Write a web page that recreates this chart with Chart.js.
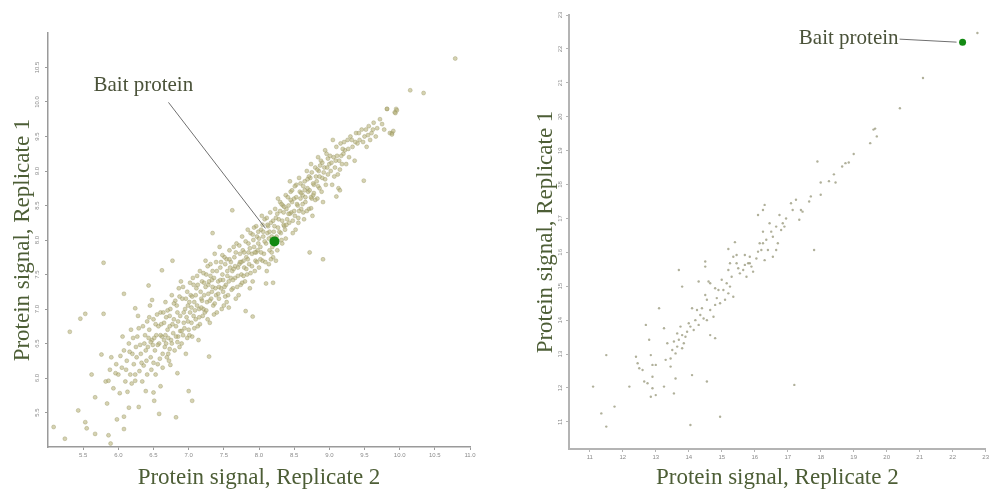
<!DOCTYPE html>
<html>
<head>
<meta charset="utf-8">
<script src="https://cdn.jsdelivr.net/npm/chart.js@4.4.1/dist/chart.umd.min.js"></script>
<style>
  html, body { margin: 0; padding: 0; background: #fff; }
  #wrap { position: relative; width: 991px; height: 489px; overflow: hidden; }
  #left { position: absolute; left: 0; top: 0; }
  #right { position: absolute; left: 520px; top: 0; }
</style>
</head>
<body>
<div id="wrap">
  <canvas id="left" width="480" height="489"></canvas>
  <canvas id="right" width="471" height="489"></canvas>
</div>
<script>
// left panel: [replicate 2, replicate 1]
var leftProteins = [
  [5.82,5.95],[5.88,6.12],[5.93,5.85],[5.97,6.2],[6.0,6.05],[5.9,6.3],[6.02,5.78],
  [6.05,6.15],[6.08,6.4],[6.1,5.95],[6.12,6.25],[6.15,6.5],[6.17,6.05],[6.2,6.35],[6.06,6.6],[6.18,6.7],[6.13,5.8],
  [6.22,6.2],[6.25,6.45],[6.27,6.6],[6.3,6.1],[6.32,6.35],[6.35,6.75],[6.37,6.5],[6.4,6.25],[6.28,6.9],[6.34,5.95],[6.38,6.62],[6.24,6.05],
  [6.42,6.45],[6.44,6.7],[6.46,6.3],[6.48,6.55],[6.5,6.85],[6.52,6.4],[6.54,6.62],[6.56,6.2],[6.58,6.5],[6.6,6.95],[6.45,7.05],[6.53,6.05],[6.57,6.75],[6.49,6.48],[6.43,6.58],
  [6.62,6.6],[6.63,6.35],[6.65,6.8],[6.67,7.1],[6.68,6.5],[6.7,6.7],[6.72,6.25],[6.73,6.9],[6.75,6.55],[6.76,7.2],[6.78,6.65],[6.8,6.4],[6.64,6.95],[6.69,6.3],[6.74,7.0],[6.79,6.85],[6.71,6.58],[6.66,6.45],
  [6.82,6.75],[6.83,7.05],[6.85,6.6],[6.86,7.3],[6.88,6.9],[6.9,6.5],[6.91,7.15],[6.93,6.8],[6.95,7.0],[6.96,6.35],[6.98,7.25],[7.0,6.7],[6.84,6.95],[6.87,6.45],[6.92,6.62],[6.97,6.88],[6.89,7.4],[6.99,7.05],
  [7.02,6.95],[7.03,7.2],[7.05,6.6],[7.06,7.45],[7.08,7.1],[7.1,6.85],[7.11,7.3],[7.13,6.75],[7.15,7.0],[7.16,7.55],[7.18,7.15],[7.2,6.9],[7.04,6.8],[7.07,7.35],[7.12,7.05],[7.14,6.55],[7.17,7.25],[7.19,7.4],[7.09,6.98],[7.01,7.1],
  [7.22,7.2],[7.23,6.95],[7.25,7.5],[7.26,7.1],[7.28,7.35],[7.3,6.8],[7.31,7.65],[7.33,7.25],[7.35,7.05],[7.36,7.45],[7.38,7.3],[7.4,6.95],[7.24,7.7],[7.27,6.85],[7.32,7.15],[7.34,7.55],[7.37,7.8],[7.39,7.2],[7.29,7.4],[7.21,7.0],
  [7.42,7.4],[7.43,7.15],[7.45,7.6],[7.46,7.3],[7.48,7.5],[7.5,7.05],[7.51,7.75],[7.53,7.35],[7.55,7.55],[7.56,7.2],[7.58,7.85],[7.6,7.45],[7.44,7.9],[7.47,7.0],[7.52,7.65],[7.54,7.1],[7.57,7.4],[7.59,7.6],[7.49,7.25],
  [7.62,7.55],[7.63,7.3],[7.65,7.75],[7.66,7.45],[7.68,7.95],[7.7,7.6],[7.71,7.2],[7.73,7.8],[7.75,7.5],[7.76,8.05],[7.78,7.7],[7.8,7.4],[7.64,7.9],[7.67,7.15],[7.72,7.65],[7.74,7.35],[7.77,7.85],[7.79,7.6],
  [7.82,7.75],[7.83,7.5],[7.85,7.95],[7.86,7.65],[7.88,8.1],[7.9,7.8],[7.91,7.4],[7.93,7.9],[7.95,7.7],[7.96,8.2],[7.98,7.85],[8.0,7.6],[7.84,8.15],[7.87,7.3],[7.92,8.0],[7.94,7.55],[7.97,8.05],[7.99,7.95],
  [8.02,7.9],[8.03,8.15],[8.05,7.7],[8.06,8.05],[8.08,8.3],[8.1,7.95],[8.11,7.55],[8.13,8.2],[8.15,7.85],[8.16,8.4],[8.18,8.05],[8.2,7.75],[8.04,8.35],[8.07,7.8],[8.12,8.1],[8.14,7.65],[8.17,8.25],[8.19,7.9],
  [8.22,8.2],[8.23,8.45],[8.25,8.05],[8.26,7.85],[8.28,8.3],[8.3,8.55],[8.31,8.1],[8.33,7.95],[8.35,8.4],[8.36,8.2],[8.38,8.65],[8.4,8.3],[8.24,7.7],[8.27,8.6],[8.32,8.0],[8.34,8.5],[8.37,8.15],[8.39,8.45],
  [8.42,8.5],[8.43,8.25],[8.45,8.7],[8.46,8.4],[8.48,8.1],[8.5,8.6],[8.51,8.35],[8.53,8.8],[8.55,8.5],[8.56,8.25],[8.58,8.7],[8.6,8.45],[8.44,8.85],[8.47,8.55],[8.52,8.15],[8.57,8.9],[8.59,8.6],
  [8.62,8.65],[8.63,8.4],[8.65,8.85],[8.66,8.55],[8.68,9.0],[8.7,8.7],[8.71,8.45],[8.73,8.9],[8.75,8.6],[8.76,8.35],[8.78,8.8],[8.8,9.05],[8.64,8.3],[8.69,8.75],[8.74,9.1],[8.77,8.65],
  [8.82,8.85],[8.83,8.6],[8.85,9.0],[8.86,8.75],[8.88,9.15],[8.9,8.9],[8.91,8.55],[8.93,9.05],[8.95,8.8],[8.96,9.25],[8.98,8.95],[9.0,9.1],[8.84,9.2],[8.89,8.7],[8.94,9.3],
  [9.02,9.0],[9.04,8.8],[9.06,9.2],[9.08,9.05],[9.1,9.35],[9.12,8.95],[9.14,9.15],[9.16,9.4],[9.18,9.1],[9.2,9.25],[9.05,9.45],[9.13,8.75],
  [9.22,9.3],[9.24,9.1],[9.26,9.45],[9.28,9.2],[9.3,9.5],[9.33,9.35],[9.36,9.15],[9.38,9.55],[9.4,9.4],
  [9.43,9.45],[9.46,9.6],[9.5,9.5],[9.53,9.35],[9.56,9.65],[9.6,9.55],[9.63,9.7],[9.66,9.5],[9.58,9.45],
  [9.72,9.75],[9.78,9.6],[9.82,9.9],[9.86,9.55],[9.89,9.55],[9.93,9.85],[9.95,9.9],
  [6.31,6.48],[6.36,6.18],[6.41,6.82],[6.47,6.12],[6.51,6.58],[6.55,6.92],[6.59,6.28],[6.61,6.78],[6.67,6.62],[6.7,6.98],
  [6.73,6.42],[6.77,6.78],[6.81,7.12],[6.84,6.52],[6.88,6.68],[6.92,7.32],[6.94,6.72],[6.98,6.58],[7.02,7.38],[7.05,7.18],
  [7.08,6.72],[7.12,7.48],[7.15,6.88],[7.18,7.02],[7.21,7.52],[7.24,7.32],[7.27,7.62],[7.3,7.12],[7.33,7.42],[7.36,6.92],
  [7.39,7.68],[7.42,7.22],[7.45,7.42],[7.48,7.78],[7.51,7.32],[7.54,7.72],[7.57,7.02],[7.6,7.68],[7.63,7.42],[7.66,7.62],
  [7.69,7.32],[7.72,7.92],[7.75,7.68],[7.78,7.48],[7.81,7.98],[7.84,7.72],[7.87,7.88],[7.9,7.62],[7.93,8.18],[7.96,7.82],
  [7.99,8.12],[8.02,7.72],[8.05,8.22],[8.08,7.98],[8.11,8.32],[8.14,8.02],[8.17,7.72],[8.2,8.28],[8.23,8.02],[8.26,8.38],
  [8.29,8.12],[8.32,8.52],[8.35,8.22],[8.38,8.02],[8.41,8.62],[8.44,8.38],[8.47,8.72],[8.5,8.42],[8.53,8.62],[8.56,8.32],
  [8.59,8.82],[8.62,8.52],[8.65,8.72],[8.68,8.42],[8.71,8.92],[8.74,8.62],[8.77,8.82],[8.8,8.58],[8.83,9.02],[8.86,8.92],
  [8.9,9.12],[8.94,8.88],[8.98,9.18],[9.03,9.12],[9.07,8.92],[9.11,9.22],[9.15,9.02],[9.19,9.32],
  [6.03,6.32],[6.11,6.12],[6.16,6.38],[6.19,5.92],[6.21,6.58],[6.26,6.3],[6.29,6.72],[6.33,6.22],[6.39,6.4],[6.41,6.05],
  [6.44,6.88],[6.46,6.52],[6.5,6.22],[6.53,6.78],[6.56,6.48],[6.6,6.62],[6.63,6.15],[6.65,6.55],[6.68,6.88],[6.71,6.35],
  [6.73,6.75],[6.76,6.5],[6.79,7.08],[6.82,6.6],[6.85,6.82],[6.87,7.18],[6.9,6.68],[6.93,6.95],[6.96,7.15],[6.99,6.82],
  [7.01,6.62],[7.04,7.02],[7.07,6.9],[7.1,7.2],[7.13,7.35],[7.16,6.78],[7.19,7.12],[7.22,7.38],[7.25,6.98],[7.28,7.22],
  [7.31,7.48],[7.34,7.32],[7.37,7.08],[7.4,7.55],[7.43,7.32],[7.46,7.68],[7.49,7.42],[7.52,7.18],[7.55,7.48],[7.58,7.72],
  [7.61,7.28],[7.64,7.58],[7.67,7.82],[7.7,7.48],[7.73,7.68],[7.76,7.38],[7.79,7.82],[7.82,7.58],[7.85,7.82],[7.88,7.52],
  [7.91,8.08],[7.94,7.82],[7.97,7.68],[8.0,8.02],[8.03,7.82],[8.06,8.12],[8.09,7.68],[8.12,8.22],[8.15,8.12],[8.18,7.82],
  [8.21,8.12],[8.24,8.32],[8.27,8.18],[8.3,8.42],[8.33,8.28],[8.36,8.48],[8.39,8.22],[8.42,8.38],[8.45,8.58],[8.48,8.28],
  [8.51,8.78],[8.54,8.52],[8.57,8.42],[8.6,8.68],[8.63,8.78],[8.66,8.62],[8.69,8.88],[8.72,8.72],[8.75,8.98],[8.78,8.68],
  [8.81,8.92],[8.84,8.78],[8.87,9.08],[8.92,8.98],[8.97,9.05],[9.01,9.22],[9.09,9.15],[9.17,9.22],[9.21,9.42],[9.27,9.32],
  [9.32,9.45],[9.37,9.42],[9.42,9.55],[9.48,9.42],[9.52,9.6],[9.55,9.52],[9.62,9.6],[9.68,9.62],[9.75,9.68],
  // scattered ones
  [10.79,10.63],[10.15,10.17],[10.34,10.13],[9.96,9.88],[9.94,9.84],[9.82,9.9],[9.89,9.53],[9.91,9.58],[9.49,8.86],
  [8.91,7.72],[8.72,7.82],[5.79,7.67],[7.62,8.43],[7.34,8.1],[5.31,6.67],[5.46,6.86],[5.53,6.93],[5.79,6.93],
  [6.08,7.22],[6.24,7.01],[5.08,5.29],[5.24,5.12],[5.43,5.53],[5.53,5.36],[5.55,5.27],[5.67,5.19],[5.86,5.17],
  [5.89,5.05],[5.98,5.4],[6.08,5.26],[5.67,5.72],[5.84,5.63],[5.62,6.05],[5.76,6.34],[5.96,6.07],[6.15,5.57],
  [6.51,5.67],[6.58,5.48],[6.82,5.43],[7.29,6.31],[7.91,6.89],[7.81,6.97],[8.2,7.38],[8.1,7.37],[6.5,5.79],
  [6.6,5.88],[7.05,5.67],[7.0,5.81],[6.84,6.07],[6.74,6.19],[8.74,8.46],[9.1,8.63],[9.15,8.72],[5.86,5.96],
  [6.24,5.96],[6.39,5.81],[6.08,5.44],[6.29,5.58],[6.77,7.7],[6.62,7.56],[6.43,7.34],[6.48,7.13]
];
var leftBait = [8.22, 7.98];
var leftXTicks = [5.5, 6, 6.5, 7, 7.5, 8, 8.5, 9, 9.5, 10, 10.5, 11];
var leftYTicks = [5.5, 6, 6.5, 7, 7.5, 8, 8.5, 9, 9.5, 10, 10.5];

// right panel: [replicate 2, replicate 1]
var rightProteins = [
  [22.75,22.47],[21.1,21.14],[20.4,20.25],[19.65,19.65],[19.6,19.62],[19.7,19.42],[19.5,19.22],[19.0,18.9],
  [18.85,18.65],[18.75,18.63],[18.65,18.53],[17.9,18.68],[18.4,18.3],[18.25,18.1],[18.45,18.06],[18.0,18.06],
  [18.0,17.7],[17.7,17.65],[17.65,17.5],[17.1,17.45],[17.4,17.25],[17.45,17.2],[17.35,16.96],[16.95,17.0],
  [16.85,16.86],[16.8,16.66],[16.65,16.76],[16.5,16.61],[16.55,16.46],[16.35,16.37],[16.25,16.61],[16.3,17.4],
  [16.25,17.25],[16.1,17.1],[16.7,16.27],[16.65,16.07],[16.55,15.87],[16.4,16.07],[16.25,16.27],[16.2,16.07],
  [16.1,16.02],[16.05,15.82],[15.85,15.87],[15.8,15.68],[15.7,15.63],[15.9,15.58],[15.65,15.48],[15.75,15.28],
  [15.55,15.38],[15.5,15.53],[15.45,15.68],[15.35,15.87],[15.25,15.68],[15.2,15.48],[15.3,15.28],[15.15,15.09],
  [15.05,14.89],[15.2,14.79],[15.1,14.6],[14.95,14.5],[14.85,14.65],[14.9,14.89],[15.0,15.19],[14.8,14.45],
  [14.65,14.3],[14.75,14.1],[14.55,14.0],[14.45,14.05],[14.35,14.15],[14.25,14.3],[14.2,14.0],[14.3,13.86],
  [14.15,13.71],[14.05,13.81],[13.95,13.66],[13.9,13.51],[13.8,13.56],[13.7,13.42],[13.85,13.32],[13.65,13.22],
  [13.55,13.37],[13.5,13.12],[13.6,13.02],[13.45,12.87],[13.8,13.17],[14.0,13.91],[14.1,14.35],[14.5,14.74],
  [14.65,15.09],[14.8,14.94],[15.25,14.99],[15.35,14.69],[15.45,15.92],[15.7,15.92],[15.85,15.68],[15.95,15.43],
  [16.15,16.27],[16.45,16.86],[16.75,17.1],[16.9,16.76],[17.15,17.25],[17.25,17.55],[16.3,15.77],[14.55,14.6],
  [14.4,14.35],[13.75,13.81],[13.65,13.61],[13.35,13.32],
  [17.8,16.07],[15.4,16.3],[15.2,16.1],[14.5,15.73],[14.5,15.58],[13.7,15.48],[13.8,14.99],[14.3,15.14],
  [14.6,15.14],[13.1,14.35],[13.25,13.76],[12.7,13.86],[12.8,13.42],[14.65,13.56],[14.8,13.47],[12.4,12.92],
  [12.45,12.73],[12.5,12.58],[12.6,12.53],[12.85,12.97],[12.9,12.68],[13.0,12.68],[13.3,12.83],[13.45,12.63],
  [12.65,12.19],[12.75,12.14],[12.9,12.33],[12.9,11.99],[12.85,11.74],[13.0,11.79],[13.25,12.04],[13.55,11.84],
  [13.6,12.28],[14.1,12.38],[14.55,12.19],[11.5,12.97],[11.1,12.04],[12.2,12.04],[11.75,11.45],[11.35,11.25],
  [11.5,10.86],[14.05,10.91],[14.95,11.15],[17.2,12.09]
];
var rightBait = [22.3, 22.2];
var rightTicks = [11, 12, 13, 14, 15, 16, 17, 18, 19, 20, 21, 22, 23];

var serif = '"Liberation Serif", "Times New Roman", serif';
var titleColor = '#4d5e36';

var baitLabel = {
  id: 'baitLabel',
  afterDatasetsDraw: function(chart, args, opts) {
    var ctx = chart.ctx;
    var px = chart.scales.x.getPixelForValue(opts.point[0]);
    var py = chart.scales.y.getPixelForValue(opts.point[1]);
    ctx.save();
    ctx.strokeStyle = '#707070';
    ctx.lineWidth = 1;
    ctx.beginPath();
    ctx.moveTo(px + opts.lineFrom[0], py + opts.lineFrom[1]);
    ctx.lineTo(px + opts.lineTo[0], py + opts.lineTo[1]);
    ctx.stroke();
    ctx.font = '21px ' + serif;
    ctx.fillStyle = '#4a5239';
    ctx.textAlign = opts.align;
    ctx.textBaseline = 'alphabetic';
    ctx.fillText('Bait protein', px + opts.text[0], py + opts.text[1]);
    ctx.restore();
  }
};

function scatterOptions(o) {
  return {
    responsive: false,
    animation: false,
    layout: { padding: { top: o.top, right: o.right, left: 0, bottom: 0 } },
    plugins: {
      legend: { display: false },
      tooltip: { enabled: false },
      baitLabel: o.label
    },
    scales: {
      x: {
        type: 'linear',
        min: o.xMin,
        max: o.xMax,
        afterBuildTicks: function(s) { s.ticks = o.xTicks.map(function(v) { return { value: v }; }); },
        afterFit: function(s) { s.height = o.xHeight; },
        border: { color: o.axisColor, width: o.axisWidth },
        grid: { drawOnChartArea: false, color: o.axisColor, tickLength: 3 },
        ticks: { font: { size: 6 }, color: '#8a8a8a', padding: 2, maxRotation: 0, autoSkip: false },
        title: {
          display: true, text: 'Protein signal, Replicate 2', color: titleColor,
          font: { family: serif, size: 23, lineHeight: 1 }, padding: { top: 0, bottom: 0 }
        }
      },
      y: {
        type: 'linear',
        min: o.yMin,
        max: o.yMax,
        afterBuildTicks: function(s) { s.ticks = o.yTicks.map(function(v) { return { value: v }; }); },
        afterFit: function(s) { s.width = o.yWidth; },
        border: { color: o.axisColor, width: o.axisWidth },
        grid: { drawOnChartArea: false, color: o.axisColor, tickLength: 3 },
        ticks: { font: { size: 6 }, color: '#8a8a8a', padding: 2, minRotation: 90, maxRotation: 90, crossAlign: 'center', autoSkip: false },
        title: {
          display: true, text: 'Protein signal, Replicate 1', color: titleColor,
          font: { family: serif, size: 23, lineHeight: 1 }, padding: { top: o.yTitlePad, bottom: 0 }
        }
      }
    }
  };
}

new Chart(document.getElementById('left'), {
  type: 'scatter',
  data: {
    datasets: [{
      data: [{ x: leftBait[0], y: leftBait[1] }],
      backgroundColor: '#138a13',
      pointRadius: 5,
      borderWidth: 0
    }, {
      data: leftProteins.map(function(p) { return { x: p[0], y: p[1] }; }),
      backgroundColor: 'rgba(185, 180, 125, 0.6)',
      borderColor: 'rgba(140, 138, 85, 0.55)',
      borderWidth: 0.6,
      pointRadius: 2
    }]
  },
  options: scatterOptions({
    top: 33, right: 10, xMin: 5, xMax: 11, yMin: 5, yMax: 11,
    xTicks: leftXTicks, yTicks: leftYTicks, xHeight: 42, yWidth: 48,
    axisColor: '#9a9a9a', axisWidth: 1.5, yTitlePad: 11,
    label: { point: leftBait, lineFrom: [-106, -139], lineTo: [-9, -13], text: [-181, -150], align: 'left' }
  }),
  plugins: [baitLabel]
});

new Chart(document.getElementById('right'), {
  type: 'scatter',
  data: {
    datasets: [{
      data: [{ x: rightBait[0], y: rightBait[1] }],
      backgroundColor: '#138a13',
      pointRadius: 3.5,
      borderWidth: 0
    }, {
      data: rightProteins.map(function(p) { return { x: p[0], y: p[1] }; }),
      backgroundColor: 'rgba(150, 150, 120, 0.75)',
      borderWidth: 0,
      pointRadius: 1.2
    }]
  },
  options: scatterOptions({
    top: 15, right: 1, xMin: 10.37, xMax: 23, yMin: 10.2, yMax: 23,
    xTicks: rightTicks, yTicks: rightTicks, xHeight: 40, yWidth: 49,
    axisColor: '#b4b4b4', axisWidth: 2, yTitlePad: 14,
    label: { point: rightBait, lineFrom: [-63, -3], lineTo: [-6, 0], text: [-64, 2], align: 'right' }
  }),
  plugins: [baitLabel]
});
</script>
</body>
</html>
